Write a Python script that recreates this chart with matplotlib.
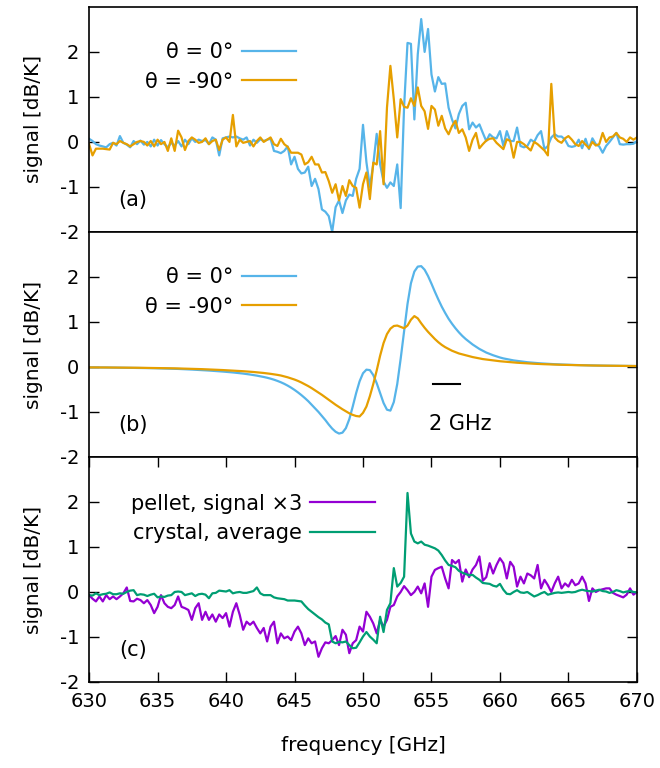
import numpy as np
import matplotlib
matplotlib.use("Agg")
import matplotlib.pyplot as plt

plt.rcParams["font.family"] = ["DejaVu Sans"]
plt.rcParams["axes.unicode_minus"] = False

# frequency grid, 0.25 GHz steps (630..670 GHz)
freq = np.linspace(630, 670, 161)

# -- panel (a): measured, two orientations --
a_theta0 = [
    0.07, 0.02, -0.05, -0.08, -0.10, -0.12, -0.05, -0.02,
    -0.08, 0.13, -0.02, -0.06, -0.12, 0.02, -0.05, 0.03,
    -0.06, 0.00, -0.10, 0.05, -0.08, 0.04, -0.05, -0.12,
    -0.02, -0.08, 0.02, -0.10, 0.05, -0.05, 0.08, 0.00,
    0.05, 0.02, 0.04, -0.05, 0.10, 0.05, -0.30, 0.08,
    0.10, 0.12, 0.10, 0.12, 0.08, 0.05, 0.10, -0.08,
    0.05, -0.02, 0.06, 0.02, 0.05, 0.07, -0.20, -0.22,
    -0.25, -0.20, -0.10, -0.50, -0.33, -0.60, -0.70, -0.68,
    -0.55, -0.98, -0.82, -1.05, -1.50, -1.55, -1.65, -2.00,
    -1.45, -1.30, -1.58, -1.30, -1.17, -1.20, -0.82, -0.60,
    0.38, -0.45, -1.00, -0.50, 0.18, -0.50, -0.88, -1.02,
    -0.90, -0.98, -0.50, -1.47, 0.78, 2.20, 2.18, 0.50,
    1.95, 2.73, 2.00, 2.51, 1.50, 1.12, 1.44, 1.29,
    1.30, 0.76, 0.50, 0.30, 0.62, 0.80, 0.87, 0.28,
    0.43, 0.32, 0.39, 0.20, 0.02, 0.17, 0.10, 0.08,
    0.24, -0.09, 0.24, 0.02, 0.02, 0.32, -0.09, -0.12,
    -0.09, 0.05, 0.00, 0.15, 0.24, -0.16, -0.09, 0.10,
    0.17, 0.12, 0.12, 0.05, -0.09, -0.11, -0.09, 0.05,
    -0.14, 0.07, -0.16, 0.08, -0.05, -0.10, -0.24, -0.09,
    0.00, 0.10, 0.20, -0.05, -0.06, -0.05, -0.05, -0.04,
    0.02,
]
a_theta90 = [
    -0.05, -0.30, -0.15, -0.15, -0.15, -0.16, -0.17, -0.02,
    -0.05, 0.02, -0.02, -0.05, -0.10, -0.05, 0.00, 0.02,
    0.00, -0.08, 0.02, -0.10, 0.05, -0.05, 0.00, -0.20,
    0.08, -0.20, 0.25, 0.10, -0.18, 0.02, 0.10, 0.05,
    -0.02, 0.00, 0.08, -0.05, 0.02, 0.05, -0.18, 0.05,
    0.10, 0.00, 0.60, -0.10, 0.05, -0.02, 0.00, 0.02,
    -0.10, 0.02, 0.10, 0.00, 0.05, 0.10, -0.05, -0.09,
    0.07, -0.05, -0.11, -0.24, -0.24, -0.24, -0.28, -0.50,
    -0.45, -0.33, -0.50, -0.50, -0.68, -0.67, -0.87, -1.13,
    -0.94, -1.30, -0.98, -1.20, -0.85, -0.98, -1.02, -1.46,
    -0.94, -0.68, -1.27, -0.46, -0.50, 0.24, -0.94, 0.76,
    1.69, 0.95, 0.10, 0.95, 0.78, 0.76, 0.97, 0.80,
    1.21, 0.80, 0.68, 0.29, 0.80, 0.72, 0.36, 0.58,
    0.30, 0.17, 0.35, 0.47, 0.20, 0.28, 0.10, -0.20,
    0.05, 0.20, -0.14, -0.05, 0.03, 0.07, 0.08, -0.02,
    -0.09, -0.16, 0.06, 0.02, -0.35, 0.00, 0.00, -0.05,
    -0.12, -0.19, 0.00, -0.05, -0.12, -0.19, -0.30, 1.29,
    0.10, 0.02, -0.02, 0.08, 0.13, 0.05, -0.05, -0.09,
    0.02, -0.06, -0.14, 0.00, -0.08, -0.05, 0.20, 0.00,
    0.10, 0.12, 0.20, 0.10, 0.07, 0.00, 0.10, 0.05,
    0.10,
]

# -- panel (b): model curves --
b_theta0 = [
    -0.010, -0.010, -0.010, -0.010, -0.012, -0.012, -0.013, -0.013,
    -0.014, -0.015, -0.016, -0.017, -0.018, -0.019, -0.020, -0.021,
    -0.022, -0.024, -0.026, -0.028, -0.030, -0.032, -0.034, -0.036,
    -0.038, -0.041, -0.044, -0.047, -0.050, -0.054, -0.058, -0.062,
    -0.066, -0.070, -0.075, -0.080, -0.085, -0.090, -0.096, -0.102,
    -0.108, -0.115, -0.122, -0.130, -0.138, -0.147, -0.157, -0.168,
    -0.180, -0.193, -0.207, -0.223, -0.240, -0.260, -0.283, -0.310,
    -0.340, -0.375, -0.415, -0.460, -0.510, -0.565, -0.625, -0.690,
    -0.760, -0.840, -0.920, -1.000, -1.090, -1.180, -1.280, -1.370,
    -1.440, -1.480, -1.460, -1.360, -1.160, -0.880, -0.580, -0.320,
    -0.140, -0.060, -0.070, -0.180, -0.360, -0.580, -0.800, -0.950,
    -0.970, -0.780, -0.380, 0.180, 0.800, 1.400, 1.860, 2.120,
    2.230, 2.240, 2.160, 2.020, 1.850, 1.670, 1.500, 1.340,
    1.200, 1.070, 0.960, 0.860, 0.770, 0.690, 0.620, 0.560,
    0.500, 0.450, 0.400, 0.360, 0.320, 0.290, 0.260, 0.235,
    0.210, 0.190, 0.175, 0.160, 0.145, 0.135, 0.125, 0.115,
    0.105, 0.098, 0.091, 0.085, 0.079, 0.074, 0.069, 0.065,
    0.061, 0.057, 0.054, 0.051, 0.048, 0.045, 0.043, 0.041,
    0.039, 0.037, 0.035, 0.033, 0.032, 0.030, 0.029, 0.028,
    0.027, 0.026, 0.025, 0.024, 0.023, 0.022, 0.021, 0.020,
    0.020,
]
b_theta90 = [
    -0.010, -0.010, -0.011, -0.011, -0.012, -0.012, -0.013, -0.013,
    -0.014, -0.014, -0.015, -0.016, -0.016, -0.017, -0.018, -0.019,
    -0.020, -0.021, -0.022, -0.023, -0.024, -0.025, -0.026, -0.028,
    -0.029, -0.031, -0.033, -0.035, -0.037, -0.039, -0.041, -0.044,
    -0.046, -0.049, -0.052, -0.055, -0.058, -0.061, -0.065, -0.069,
    -0.073, -0.077, -0.081, -0.085, -0.090, -0.095, -0.100, -0.106,
    -0.112, -0.119, -0.126, -0.134, -0.143, -0.153, -0.164, -0.176,
    -0.190, -0.210, -0.230, -0.255, -0.280, -0.310, -0.345, -0.385,
    -0.425, -0.470, -0.520, -0.570, -0.620, -0.675, -0.730, -0.785,
    -0.840, -0.890, -0.940, -0.985, -1.030, -1.065, -1.090, -1.100,
    -1.020, -0.880, -0.650, -0.380, -0.080, 0.250, 0.530, 0.730,
    0.850, 0.910, 0.920, 0.890, 0.860, 0.920, 1.050, 1.130,
    1.080, 0.970, 0.870, 0.780, 0.700, 0.620, 0.550, 0.490,
    0.440, 0.400, 0.360, 0.330, 0.300, 0.280, 0.260, 0.240,
    0.220, 0.205, 0.190, 0.175, 0.165, 0.155, 0.145, 0.135,
    0.127, 0.120, 0.113, 0.106, 0.100, 0.094, 0.089, 0.084,
    0.079, 0.075, 0.071, 0.067, 0.064, 0.061, 0.058, 0.055,
    0.052, 0.050, 0.048, 0.046, 0.044, 0.042, 0.040, 0.038,
    0.036, 0.035, 0.034, 0.032, 0.031, 0.030, 0.029, 0.028,
    0.027, 0.026, 0.025, 0.024, 0.023, 0.022, 0.021, 0.020,
    0.020,
]

# -- panel (c): pellet vs crystal --
c_pellet = [
    -0.07, -0.15, -0.21, -0.10, -0.21, -0.07, -0.16, -0.10,
    -0.16, -0.10, -0.03, 0.10, -0.20, -0.21, -0.15, -0.18,
    -0.25, -0.18, -0.29, -0.47, -0.33, -0.07, -0.25, -0.33,
    -0.36, -0.29, -0.10, -0.33, -0.36, -0.40, -0.62, -0.36,
    -0.25, -0.62, -0.44, -0.62, -0.50, -0.66, -0.50, -0.58,
    -0.47, -0.77, -0.44, -0.25, -0.51, -0.84, -0.66, -0.73,
    -0.66, -0.80, -0.92, -0.80, -1.10, -0.77, -0.66, -1.14,
    -0.92, -1.03, -0.99, -1.07, -0.88, -0.77, -0.92, -1.18,
    -1.03, -1.14, -1.10, -1.44, -1.25, -1.12, -1.14, -1.07,
    -0.98, -1.18, -0.84, -0.95, -1.36, -1.14, -1.07, -0.77,
    -0.88, -0.44, -0.55, -0.70, -0.92, -0.62, -0.77, -0.62,
    -0.33, -0.29, -0.10, 0.00, 0.13, 0.04, -0.07, 0.00,
    0.12, -0.03, 0.19, -0.33, 0.34, 0.49, 0.53, 0.56,
    0.30, 0.08, 0.71, 0.64, 0.71, 0.23, 0.50, 0.33,
    0.50, 0.60, 0.79, 0.25, 0.33, 0.64, 0.41, 0.60,
    0.75, 0.64, 0.30, 0.67, 0.56, 0.12, 0.34, 0.19,
    0.41, 0.37, 0.30, 0.60, 0.08, 0.27, 0.15, 0.00,
    0.19, 0.34, 0.08, 0.19, 0.12, 0.27, 0.15, 0.19,
    0.34, 0.19, -0.20, 0.08, 0.00, 0.04, 0.06, 0.08,
    0.08, -0.02, -0.06, -0.09, -0.12, -0.06, 0.08, -0.06,
    0.00,
]
c_crystal = [
    -0.07, -0.08, -0.03, -0.07, -0.05, -0.04, -0.01, -0.05,
    -0.05, -0.03, -0.04, 0.00, 0.03, 0.04, -0.07, -0.05,
    -0.06, -0.09, -0.06, -0.04, -0.12, -0.10, -0.11, -0.08,
    -0.07, 0.00, 0.01, 0.00, -0.07, -0.05, -0.03, -0.09,
    -0.05, -0.04, -0.06, -0.14, -0.03, -0.02, 0.03, 0.02,
    0.01, 0.04, -0.03, -0.01, 0.00, -0.02, -0.02, 0.00,
    0.02, 0.10, -0.03, -0.07, -0.07, -0.07, -0.12, -0.14,
    -0.15, -0.16, -0.19, -0.19, -0.19, -0.20, -0.21, -0.30,
    -0.38, -0.44, -0.50, -0.56, -0.61, -0.68, -0.72, -1.10,
    -1.14, -1.11, -1.12, -1.10, -1.18, -1.25, -1.24, -1.12,
    -0.99, -0.89, -0.99, -1.06, -1.14, -0.55, -0.89, -0.40,
    -0.25, 0.53, 0.12, 0.20, 0.34, 2.20, 1.30, 1.12,
    1.08, 1.12, 1.05, 1.03, 1.00, 0.97, 0.92, 0.82,
    0.70, 0.60, 0.58, 0.55, 0.47, 0.43, 0.40, 0.37,
    0.38, 0.32, 0.27, 0.20, 0.19, 0.18, 0.14, 0.12,
    0.18, 0.05, -0.04, -0.05, 0.00, 0.04, -0.01, -0.02,
    0.00, -0.05, -0.10, -0.07, -0.03, 0.00, -0.06, -0.04,
    -0.02, -0.01, -0.02, -0.01, 0.00, -0.01, 0.00, 0.03,
    0.05, 0.03, 0.02, 0.01, 0.03, 0.05, 0.02, 0.01,
    -0.02, 0.00, 0.04, 0.02, -0.01, 0.01, 0.02, 0.00,
    -0.01,
]

yticks = [-2, -1, 0, 1, 2]
xticks = [630, 635, 640, 645, 650, 655, 660, 665, 670]

blue = "#56b4e9"
orange = "#e69f00"
purple = "#9400d3"
green = "#009e73"

fig = plt.figure(figsize=(6.6, 7.68), dpi=100)
L, W, H = 0.135, 0.830, 0.293
ax_a = fig.add_axes([L, 0.698, W, H])
ax_b = fig.add_axes([L, 0.405, W, H])
ax_c = fig.add_axes([L, 0.112, W, H])

fs = 14      # ticks / axis labels
lfs = 15     # legend, panel tags

for ax in (ax_a, ax_b, ax_c):
    ax.set_xlim(630, 670)
    ax.set_ylim(-2, 3)
    ax.set_yticks(yticks)
    ax.set_xticks(xticks)
    ax.tick_params(direction="in", length=7, width=1, labelsize=fs, pad=7,
                   left=True, right=True, top=False, bottom=False,
                   labelbottom=False)
    ax.set_ylabel("signal [dB/K]", fontsize=fs + 0.5, labelpad=12)
    for s in ax.spines.values():
        s.set_linewidth(1.2)

ax_c.tick_params(top=True, bottom=True, labelbottom=True)
ax_c.set_xlabel("frequency [GHz]", fontsize=fs + 0.5, labelpad=18)

lw = 1.6
ax_a.plot(freq, a_theta0, color=blue, lw=lw, label="θ = 0°")
ax_a.plot(freq, a_theta90, color=orange, lw=lw, label="θ = -90°")
ax_b.plot(freq, b_theta0, color=blue, lw=lw, label="θ = 0°")
ax_b.plot(freq, b_theta90, color=orange, lw=lw, label="θ = -90°")
ax_c.plot(freq, c_pellet, color=purple, lw=lw, label="pellet, signal ×3")
ax_c.plot(freq, c_crystal, color=green, lw=lw, label="crystal, average")

for ax, anchor, hl in ((ax_a, (0.378, 0.733), 2.6),
                       (ax_b, (0.378, 0.733), 2.6),
                       (ax_c, (0.522, 0.727), 3.1)):
    ax.legend(loc="center right", bbox_to_anchor=anchor, frameon=False,
              markerfirst=False, alignment="right", fontsize=lfs,
              handlelength=hl, handletextpad=0.4, labelspacing=0.45,
              borderpad=0, borderaxespad=0)

for ax, tag in ((ax_a, "(a)"), (ax_b, "(b)"), (ax_c, "(c)")):
    ax.text(0.08, 0.14, tag, transform=ax.transAxes, fontsize=lfs,
            ha="center", va="center")

# 2 GHz scale bar in panel (b)
bar_start, bar_len, bar_y = 655.1, 2.0, -0.38
ax_b.plot([bar_start, bar_start + bar_len], [bar_y, bar_y], color="black", lw=1.5)
ax_b.text(bar_start - 0.25, -1.27, "2 GHz", fontsize=lfs, ha="left", va="center")

fig.savefig("out.png", dpi=100)
